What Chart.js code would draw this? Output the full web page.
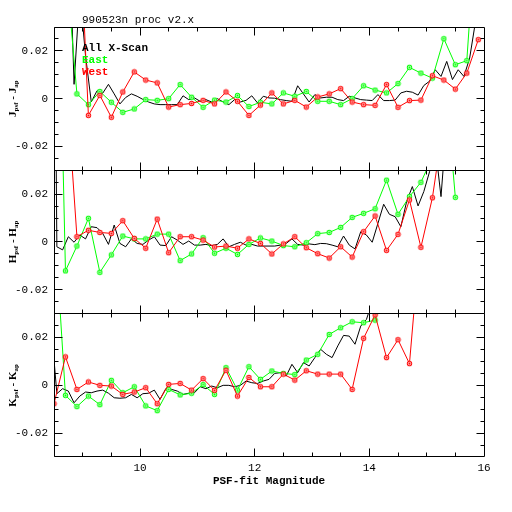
<!DOCTYPE html>
<html>
<head>
<meta charset="utf-8">
<script src="https://cdn.jsdelivr.net/npm/chart.js@4.4.0/dist/chart.umd.min.js"></script>
<style>
html,body{margin:0;padding:0;background:#fff;}
#wrap{width:512px;height:512px;}
</style>
</head>
<body>
<div id="wrap"><canvas id="c" width="512" height="512"></canvas></div>
<script>
// ---------- text ----------
const titleText = '990523n proc v2.x';
const legendNames = ['All X-Scan', 'East', 'West'];
const seriesColors = ['#000000', '#00ff00', '#ff0000'];
const bandNames = ['J', 'H', 'K'];
const xTitle = 'PSF-fit Magnitude';
const xTickValues = [10, 12, 14, 16];
const yTickValues = [-0.02, 0, 0.02];

// ---------- magnitudes ----------
const magColored = [8.5, 8.7, 8.9, 9.1, 9.3, 9.5, 9.7, 9.9, 10.1, 10.3,
  10.5, 10.7, 10.9, 11.1, 11.3, 11.5, 11.7, 11.9, 12.1, 12.3,
  12.5, 12.7, 12.9, 13.1, 13.3, 13.5, 13.7, 13.9, 14.1, 14.3,
  14.5, 14.7, 14.9, 15.1, 15.3, 15.5, 15.7, 15.9];
const magAll = [8.45,
  8.55, 8.65, 8.75, 8.85, 8.95, 9.05, 9.15, 9.25, 9.35, 9.45,
  9.55, 9.65, 9.75, 9.85, 9.95, 10.05, 10.15, 10.25, 10.35, 10.45,
  10.55, 10.65, 10.75, 10.85, 10.95, 11.05, 11.15, 11.25, 11.35, 11.45,
  11.55, 11.65, 11.75, 11.85, 11.95, 12.05, 12.15, 12.25, 12.35, 12.45,
  12.55, 12.65, 12.75, 12.85, 12.95, 13.05, 13.15, 13.25, 13.35, 13.45,
  13.55, 13.65, 13.75, 13.85, 13.95, 14.05, 14.15, 14.25, 14.35, 14.45,
  14.55, 14.65, 14.75, 14.85, 14.95, 15.05, 15.15, 15.25, 15.35, 15.45,
  15.55, 15.65, 15.75, 15.85, 15.95];

// ---------- J panel ----------
const jAll = [null,
  null, null, 0.08, 0.006, 0.045, 0.018, -0.0014, 0.0033, 0.0023, 0.006,
  0.002, -0.0022, 0.0005, 0.002, 0.001, -0.0003, -0.0014, -0.0022, -0.0025, -0.0025,
  -0.0025, -0.0025, 0.0012, -0.0004, 0.0003, -0.0011, -0.0004, -0.0014, 0, -0.0014,
  -0.0025, -0.0004, -0.0014, -0.0007, 0.0012, -0.0018, 0.001, 0.0003, 0.0002, -0.0004,
  -0.0008, -0.0011, 0.0054, 0.002, -0.0014, 0.0017, 0.0003, 0.0006, 0.0006, -0.0004,
  -0.0008, 0.001, 0.0003, -0.0004, -0.0006, -0.0008, 0.0017, -0.0008, -0.0008, -0.0006,
  0.0024, 0.0031, 0.0027, 0.0015, 0.0055, 0.0073, 0.0121, 0.0093, 0.0156, 0.008,
  0.0121, 0.0093, 0.017, 0.032, 0.05];
const jEast = [null, 0.058, 0.002, -0.0025, 0.003, -0.0015, -0.0057, -0.0043, -0.0004, -0.0007,
  0.0, 0.0059, 0.0006, -0.0036, -0.0006, -0.0014, 0.0013, -0.0033, -0.0015, -0.0022,
  0.0024, 0.001, 0.003, -0.0011, -0.0011, -0.0025, 0.0, 0.0054, 0.0036, 0.0024,
  0.0063, 0.0131, 0.0107, 0.0086, 0.0251, 0.0142, 0.0159, 0.086];
const jWest = [null, null, 0.1, -0.007, 0.0014, -0.0078, 0.0028, 0.0112, 0.0078, 0.0066,
  -0.0035, -0.0025, -0.002, -0.0007, -0.0022, 0.0028, -0.0011, -0.007, -0.0027, 0.0024,
  -0.0022, -0.0007, -0.0035, 0.0007, 0.002, 0.0042, -0.0014, -0.0025, -0.0028, 0.0059,
  -0.0036, -0.0008, -0.0006, 0.0096, 0.0078, 0.004, 0.0107, 0.0247];

// ---------- H panel ----------
const hAll = [0.3,
  -0.002, -0.0033, 0.0022, -0.0001, 0.0029, 0.0013, 0.0064, 0.006, 0.0036, -0.001,
  0.0071, -0.0006, -0.002, 0.0013, -0.0006, -0.001, 0.0008, 0.0022, -0.0013, -0.0015,
  0.0022, 0.0008, -0.001, 0.0004, -0.0013, -0.0013, -0.001, -0.0015, -0.001, 0.0013,
  -0.002, -0.001, -0.0001, -0.0013, -0.001, -0.0017, -0.0017, -0.0017, -0.0017, -0.0013,
  -0.0006, 0.0013, -0.001, -0.0013, -0.0008, -0.0011, -0.0006, -0.0007, -0.0013, -0.002,
  0.0025, -0.0013, -0.0029, 0.0043, 0.0029, -0.0001, 0.0078, 0.0158, 0.0116, 0.0106,
  0.0064, 0.0169, 0.0232, 0.0151, 0.0211, 0.0294, 0.04, 0.019, 0.05, 0.06,
  0.07, 0.07, 0.07, 0.07, 0.07];
const hEast = [0.2, -0.0121, -0.0017, 0.0099, -0.0127, -0.0054, 0.0025, 0.0013, 0.0013, 0.0033,
  0.0033, -0.0078, -0.005, 0.0018, -0.0047, -0.0026, -0.0052, -0.001, 0.0017, 0.0004,
  -0.0015, -0.002, -0.0003, 0.0035, 0.004, 0.0061, 0.0103, 0.012, 0.0139, 0.0259,
  0.0116, 0.019, 0.025, 0.0356, 0.075, 0.0187, null, null];
const hWest = [null, 0.072, 0.0022, 0.0049, 0.004, 0.0036, 0.0089, 0.0015, -0.0026, 0.0096,
  -0.0045, 0.0022, 0.0022, 0.0008, -0.0021, -0.0017, -0.0026, 0.0013, -0.0006, -0.005,
  -0.0008, 0.0022, -0.0024, -0.0049, -0.0067, -0.002, -0.0063, 0.0043, 0.0109, -0.0035,
  0.0032, 0.0176, -0.0022, 0.0185, 0.051, null, null, null];

// ---------- K panel ----------
const kAll = [0.025,
  -0.0035, -0.0014, -0.0024, -0.0073, -0.0045, -0.0028, -0.0031, -0.0024, -0.002, -0.0033,
  -0.0052, -0.0054, -0.0052, -0.0038, -0.0052, -0.0035, -0.0033, -0.002, -0.0059, -0.0014,
  -0.0017, -0.0024, -0.0038, -0.0033, -0.0031, -0.0006, -0.0014, -0.0003, -0.001, 0,
  0, -0.0006, 0, 0.0018, 0.0011, 0.0008, 0.0018, 0.0025, 0.005, 0.0053,
  0.0039, 0.0088, 0.0053, 0.0095, 0.0081, 0.0116, 0.0151, 0.013, 0.0116, 0.0165,
  0.0209, 0.0206, 0.0172, 0.0248, 0.0276, 0.035, 0.05, null, null, null,
  null, null, null, null, null, null, null, null, null, null,
  null, null, null, null, null];
const kEast = [0.072, -0.0042, -0.0089, -0.0045, -0.0081, 0.0021, -0.0031, -0.0006, -0.0086, -0.0106,
  -0.0017, -0.004, -0.0033, 0.0003, -0.0038, 0.0074, -0.002, 0.0078, 0.0025, 0.006,
  0.005, 0.0045, 0.0106, 0.013, 0.0213, 0.0241, 0.0266, 0.0262, 0.0273, 0.042,
  null, null, null, null, null, null, null, null];
const kWest = [-0.0077, 0.0119, -0.0017, 0.0014, 0, -0.0003, -0.0038, -0.0028, -0.001, -0.0077,
  0.0004, 0.0008, -0.002, 0.0028, -0.0021, 0.0063, -0.0045, 0.0033, -0.0006, -0.0006,
  0.0047, 0.0022, 0.0061, 0.0047, 0.0047, 0.0047, -0.0017, 0.0197, 0.0295, 0.0116,
  0.0191, 0.0091, 0.065, null, null, null, null, null];

// ---------- build ----------
const panelAxes = ['yJ', 'yH', 'yK'];
const panelSeries = [[jAll, jEast, jWest], [hAll, hEast, hWest], [kAll, kEast, kWest]];

function makeMarker(color) {
  const c = document.createElement('canvas');
  c.width = 7; c.height = 7;
  const g = c.getContext('2d');
  g.fillStyle = color;
  g.beginPath(); g.arc(3.5, 3.5, 2.7, 0, Math.PI * 2); g.fill();
  g.strokeStyle = '#ffffff'; g.lineWidth = 0.8;
  g.beginPath(); g.arc(3.5, 3.5, 1.3, 0, Math.PI * 2); g.stroke();
  return c;
}
const markers = [null, makeMarker(seriesColors[1]), makeMarker(seriesColors[2])];

function pts(xs, ys) { return xs.map((x, i) => ({ x: x, y: ys[i] })); }

const datasets = [];
panelAxes.forEach((axisId, p) => {
  const s = panelSeries[p];
  datasets.push({ label: legendNames[0], data: pts(magAll, s[0]), yAxisID: axisId, xAxisID: 'x',
    borderColor: seriesColors[0], borderWidth: 1, pointRadius: 0, tension: 0, order: 3, clip: false });
  datasets.push({ label: legendNames[1], data: pts(magColored, s[1]), yAxisID: axisId, xAxisID: 'x',
    borderColor: seriesColors[1], borderWidth: 1, pointStyle: markers[1], pointRadius: 2.5, tension: 0, order: 2, clip: false });
  datasets.push({ label: legendNames[2], data: pts(magColored, s[2]), yAxisID: axisId, xAxisID: 'x',
    borderColor: seriesColors[2], borderWidth: 1, pointStyle: markers[2], pointRadius: 2.5, tension: 0, order: 1, clip: false });
});

const tickFont = { family: 'Liberation Mono', size: 11 };
function yAxis() {
  return {
    type: 'linear', position: 'left', stack: 'bands', stackWeight: 1,
    min: -0.03, max: 0.03,
    grid: { display: false, drawTicks: false }, border: { display: false },
    afterBuildTicks: (sc) => { sc.ticks = yTickValues.map(v => ({ value: v })); },
    afterFit: (sc) => { sc.width = 54; },
    ticks: { font: tickFont, color: '#000', padding: 6, autoSkip: false,
      callback: (v) => (v === 0 ? '0' : Number(v).toFixed(2)) }
  };
}

const framePlugin = {
  id: 'framePlugin',
  beforeDatasetDraw(chart, args) {
    const xs = args.meta.xScale, ys = args.meta.yScale;
    const ctx = chart.ctx;
    ctx.save();
    ctx.beginPath();
    ctx.rect(xs.left, ys.top, xs.right - xs.left, ys.bottom - ys.top);
    ctx.clip();
  },
  afterDatasetDraw(chart) { chart.ctx.restore(); },
  afterDraw(chart) {
    const ctx = chart.ctx;
    const xs = chart.scales.x;
    const L = Math.floor(xs.left) + 0.5, R = Math.floor(xs.right) + 0.5;
    ctx.save();
    ctx.strokeStyle = '#000'; ctx.lineWidth = 1;
    panelAxes.forEach((id, p) => {
      const ys = chart.scales[id];
      const T = Math.floor(ys.top) + 0.5, B = Math.floor(ys.bottom) + 0.5;
      ctx.beginPath();
      ctx.moveTo(L, T); ctx.lineTo(R, T); ctx.lineTo(R, B); ctx.lineTo(L, B); ctx.closePath();
      // x ticks every 0.5
      for (let k = 17; k < 32; k++) {
        const v = k / 2;
        const px = Math.floor(xs.getPixelForValue(v)) + 0.5;
        const len = (v % 2 === 0) ? 8 : 4;
        ctx.moveTo(px, T); ctx.lineTo(px, T + len);
        ctx.moveTo(px, B); ctx.lineTo(px, B - len);
      }
      // y ticks every 0.005
      for (let k = -5; k <= 5; k++) {
        const v = k * 0.005;
        const py = Math.floor(ys.getPixelForValue(v)) + 0.5;
        const len = (k % 4 === 0) ? 8 : 4;
        ctx.moveTo(L, py); ctx.lineTo(L + len, py);
        ctx.moveTo(R, py); ctx.lineTo(R - len, py);
      }
      ctx.stroke();
      // band title, rotated, with subscripts
      const band = bandNames[p];
      const big = 'bold 11px "Liberation Serif"';
      const small = 'bold 7px "Liberation Serif"';
      const parts = [[band, big, 0], ['psf', small, 2.5], [' - ', big, 0], [band, big, 0], ['ap', small, 2.5]];
      ctx.save();
      ctx.translate(15.5, (ys.top + ys.bottom) / 2);
      ctx.rotate(-Math.PI / 2);
      let total = 0;
      parts.forEach(q => { ctx.font = q[1]; total += ctx.measureText(q[0]).width; });
      let x = -total / 2;
      ctx.fillStyle = '#000'; ctx.textAlign = 'left'; ctx.textBaseline = 'alphabetic';
      parts.forEach(q => { ctx.font = q[1]; ctx.fillText(q[0], x, q[2]); x += ctx.measureText(q[0]).width; });
      ctx.restore();
    });
    // title
    const top = chart.scales[panelAxes[0]].top;
    ctx.fillStyle = '#000';
    ctx.textAlign = 'left'; ctx.textBaseline = 'middle';
    ctx.font = '11px "Liberation Mono"';
    ctx.fillText(titleText, xs.left + 28, top - 6.5);
    // legend
    ctx.font = 'bold 11px "Liberation Mono"';
    legendNames.forEach((name, i) => {
      ctx.fillStyle = seriesColors[i];
      ctx.fillText(name, xs.left + 28, top + 21 + i * 12);
    });
    ctx.restore();
  }
};

new Chart(document.getElementById('c'), {
  type: 'line',
  data: { datasets: datasets },
  options: {
    responsive: false, animation: false, devicePixelRatio: 1,
    layout: { padding: { top: 27, right: 28, left: 0, bottom: 0 } },
    plugins: { legend: { display: false }, title: { display: false }, tooltip: { enabled: false } },
    scales: {
      x: {
        type: 'linear', position: 'bottom', min: 8.5, max: 16,
        grid: { display: false, drawTicks: false }, border: { display: false },
        afterBuildTicks: (sc) => { sc.ticks = xTickValues.map(v => ({ value: v })); },
        afterFit: (sc) => { sc.height = 55; },
        ticks: { font: tickFont, color: '#000', padding: 4, autoSkip: false, maxRotation: 0,
          callback: (v) => String(v) },
        title: { display: true, text: xTitle, color: '#000',
          font: { family: 'Liberation Mono', size: 11, weight: 'bold' }, padding: { top: 0, bottom: 24 } }
      },
      yK: yAxis(),
      yH: yAxis(),
      yJ: yAxis()
    }
  },
  plugins: [framePlugin]
});
</script>
</body>
</html>
